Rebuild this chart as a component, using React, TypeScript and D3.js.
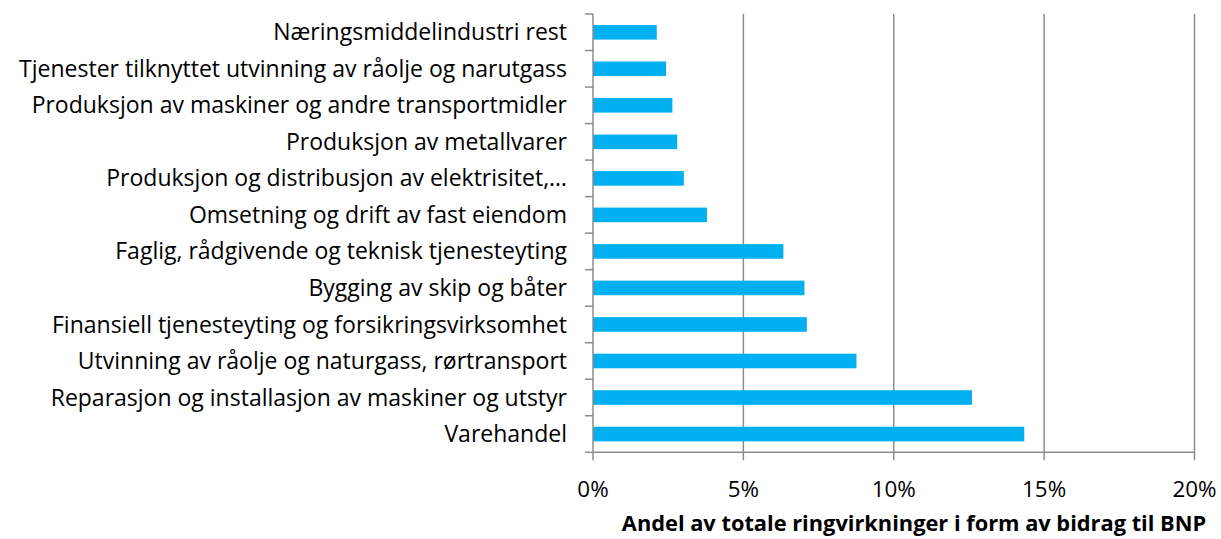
import React from 'react';
import * as d3 from 'd3';

const categories = [
  'Næringsmiddelindustri rest',
  'Tjenester tilknyttet utvinning av råolje og narutgass',
  'Produksjon av maskiner og andre transportmidler',
  'Produksjon av metallvarer',
  'Produksjon og distribusjon av elektrisitet,…',
  'Omsetning og drift av fast eiendom',
  'Faglig, rådgivende og teknisk tjenesteyting',
  'Bygging av skip og båter',
  'Finansiell tjenesteyting og forsikringsvirksomhet',
  'Utvinning av råolje og naturgass, rørtransport',
  'Reparasjon og installasjon av maskiner og utstyr',
  'Varehandel',
];

const values = [2.12, 2.43, 2.64, 2.8, 3.02, 3.79, 6.33, 7.03, 7.11, 8.76, 12.6, 14.34];

const xTicks = [0, 5, 10, 15, 20];

const xTitle = 'Andel av totale ringvirkninger i form av bidrag til BNP';

const W = 1221;
const H = 539;
const margin = { top: 14, right: 27, bottom: 87, left: 593 };
const font = '"Open Sans", sans-serif';

const App = () => {
  const x = d3.scaleLinear().domain([0, 20]).range([margin.left, margin.left + 601.5]);
  const y = d3.scaleBand()
    .domain(categories)
    .range([margin.top, H - margin.bottom + 0.3])
    .paddingInner(0.6)
    .paddingOuter(0.3);
  const step = y.step();
  const bottom = H - margin.bottom + 0.3;

  return (
    <svg width={W} height={H} style={{ position: 'absolute', left: 0, top: 0, background: '#fff' }}>
      {/* gridlines */}
      {xTicks.slice(1).map(t => (
        <line key={t} x1={x(t)} x2={x(t)} y1={margin.top} y2={bottom + 8} stroke="#8c8c8c" strokeWidth={1.5} />
      ))}
      {/* bars */}
      {categories.map((c, i) => (
        <rect key={c} x={x(0)} y={y(c)} width={x(values[i]) - x(0)} height={y.bandwidth()} fill="#00b0f0" />
      ))}
      {/* axes */}
      <line x1={x(0)} x2={x(0)} y1={margin.top} y2={bottom + 8} stroke="#8c8c8c" strokeWidth={1.5} />
      <line x1={x(0)} x2={x(20)} y1={bottom} y2={bottom} stroke="#8c8c8c" strokeWidth={1.5} />
      {d3.range(categories.length + 1).map(i => (
        <line key={i} x1={x(0) - 8} x2={x(0)} y1={margin.top + i * step} y2={margin.top + i * step} stroke="#8c8c8c" strokeWidth={1.5} />
      ))}
      {/* labels */}
      {categories.map(c => (
        <text key={c} x={x(0) - 26} y={y(c)! + y.bandwidth() / 2} dy="0.35em" textAnchor="end"
          fontFamily={font} fontSize={23} fill="#000">{c}</text>
      ))}
      {xTicks.map(t => (
        <text key={t} x={x(t)} y={497} textAnchor="middle" fontFamily={font} fontSize={22.4} fill="#000">{t}%</text>
      ))}
      <text x={914} y={531} textAnchor="middle" fontFamily={font} fontSize={21.8} fontWeight="bold" fill="#000">{xTitle}</text>
    </svg>
  );
};

export default App;
